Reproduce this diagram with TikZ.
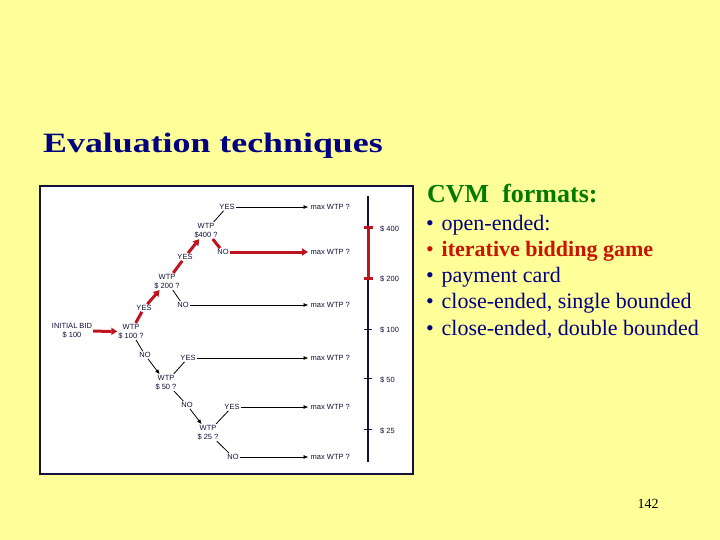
\documentclass[tikz,border=0pt]{standalone}
\usepackage{fontspec}
\setmainfont{Liberation Serif}
\newfontfamily\treefont{Liberation Sans}
\usetikzlibrary{arrows.meta}
\definecolor{slideyellow}{HTML}{FFFF99}
\definecolor{navy}{HTML}{000080}
\definecolor{darknavy}{HTML}{12123C}
\definecolor{bidred}{HTML}{BE1420}
\definecolor{textred}{HTML}{C81400}
\definecolor{darkgreen}{HTML}{007A00}

\begin{document}
\begin{tikzpicture}[x=1pt,y=1pt]
                \tikzstyle{every node}+=[inner sep=1pt]
                \tikzstyle{tree}=[font=\treefont\fontsize{7.5}{9}\selectfont, text=darknavy, align=center]
                \tikzstyle{maxq}=[tree, anchor=west, inner sep=2.5pt]
                \tikzstyle{tline}=[draw=black, line width=0.8pt]
                \tikzstyle{tarrow}=[tline, -{Triangle[length=4.5pt,width=3.5pt]}]
                \tikzstyle{redline}=[draw=bidred, line width=3pt]
                \tikzstyle{redarrow}=[redline, -{Triangle[length=6pt,width=7pt]}]
                \tikzstyle{bullet}=[anchor=base west, inner sep=0pt, font=\fontsize{22}{26}\selectfont, text=navy]
                \useasboundingbox (0,0) rectangle (720,-540);
                \fill [slideyellow] (0,0) rectangle (720,-540);
                % title and page number
                \node [anchor=base west, inner sep=0pt, text=navy, font=\fontsize{28}{32}\selectfont\bfseries] (title) at (43,-153) {\scalebox{1.28}[1]{Evaluation techniques}};
                \node [inner sep=0pt, font=\fontsize{14}{16}\selectfont] (page) at (648,-504) {142};
                % list of formats
                \node [anchor=base west, inner sep=0pt, text=darkgreen, font=\fontsize{26}{30}\selectfont\bfseries] (cvm) at (427,-203) {CVM\ \ formats:};
                \node [bullet] (f1) at (426,-230) {\makebox[15.5pt][l]{\textbullet}open-ended:};
                \node [bullet, text=textred] (f2) at (426,-256) {\makebox[15.5pt][l]{\textbullet}\textbf{iterative bidding game}};
                \node [bullet] (f3) at (426,-282) {\makebox[15.5pt][l]{\textbullet}payment card};
                \node [bullet] (f4) at (426,-308) {\makebox[15.5pt][l]{\textbullet}close-ended, single bounded};
                \node [bullet] (f5) at (426,-335) {\makebox[15.5pt][l]{\textbullet}close-ended, double bounded};
                % frame of the bidding tree
                \draw [draw=darknavy, line width=2.6pt, fill=white] (40,-186) rectangle (413,-474);
                % bid nodes
                \node [tree] (bid) at (72,-331) {INITIAL BID\\\$ 100};
                \node [tree] (w100) at (131,-331.5) {WTP\\\$ 100 ?};
                \node [tree] (yes100) at (144,-308) {YES};
                \node [tree] (no100) at (145,-355) {NO};
                \node [tree] (w200) at (167,-281.5) {WTP\\\$ 200 ?};
                \node [tree] (yes200) at (185,-257) {YES};
                \node [tree] (no200) at (183,-305) {NO};
                \node [tree] (w400) at (206,-230.5) {WTP\\\$400 ?};
                \node [tree] (yes400) at (227,-207) {YES};
                \node [tree] (no400) at (223,-252) {NO};
                \node [tree] (w50) at (166,-382.5) {WTP\\\$ 50 ?};
                \node [tree] (yes50) at (188,-358) {YES};
                \node [tree] (no50) at (187,-405) {NO};
                \node [tree] (w25) at (208,-432.5) {WTP\\\$ 25 ?};
                \node [tree] (yes25) at (232,-407) {YES};
                \node [tree] (no25) at (233,-457) {NO};
                \node [maxq] (m1) at (308,-207) {max WTP ?};
                \node [maxq] (m2) at (308,-252) {max WTP ?};
                \node [maxq] (m3) at (308,-305) {max WTP ?};
                \node [maxq] (m4) at (308,-358) {max WTP ?};
                \node [maxq] (m5) at (308,-407) {max WTP ?};
                \node [maxq] (m6) at (308,-457) {max WTP ?};
                % connectors
                \draw [redarrow] (bid) -- (w100);
                \draw [redline] (w100) -- (yes100);
                \draw [redarrow] (yes100) -- (w200);
                \draw [redline] (w200) -- (yes200);
                \draw [redarrow] (yes200) -- (w400);
                \draw [redline] (w400) -- (no400);
                \draw [redarrow] (no400) -- (m2.west);
                \draw [tline] (w200) -- (no200);
                \draw [tarrow] (no200) -- (m3.west);
                \draw [tline] (w400) -- (yes400);
                \draw [tarrow] (yes400) -- (m1.west);
                \draw [tline] (w100) -- (no100);
                \draw [tarrow] (no100) -- (w50);
                \draw [tline] (w50) -- (yes50);
                \draw [tarrow] (yes50) -- (m4.west);
                \draw [tline] (w50) -- (no50);
                \draw [tarrow] (no50) -- (w25);
                \draw [tline] (w25) -- (yes25);
                \draw [tarrow] (yes25) -- (m5.west);
                \draw [tline] (w25) -- (no25);
                \draw [tarrow] (no25) -- (m6.west);
                % scale of bids
                \draw [draw=darknavy, line width=2pt] (368,-196) -- (368,-462);
                \draw [draw=darknavy, line width=1pt] (364,-329) -- (372,-329);
                \draw [draw=darknavy, line width=1pt] (364,-378) -- (372,-378);
                \draw [draw=darknavy, line width=1pt] (364,-429) -- (372,-429);
                \draw [redline] (368,-228) -- (368,-278);
                \draw [redline] (363.5,-228) -- (373,-228);
                \draw [redline] (363.5,-278) -- (373,-278);
                \node [tree, anchor=west] (s400) at (379,-229) {\$ 400};
                \node [tree, anchor=west] (s200) at (379,-279) {\$ 200};
                \node [tree, anchor=west] (s100) at (379,-330) {\$ 100};
                \node [tree, anchor=west] (s50) at (379,-380) {\$ 50};
                \node [tree, anchor=west] (s25) at (379,-431) {\$ 25};
\end{tikzpicture}
\end{document}
